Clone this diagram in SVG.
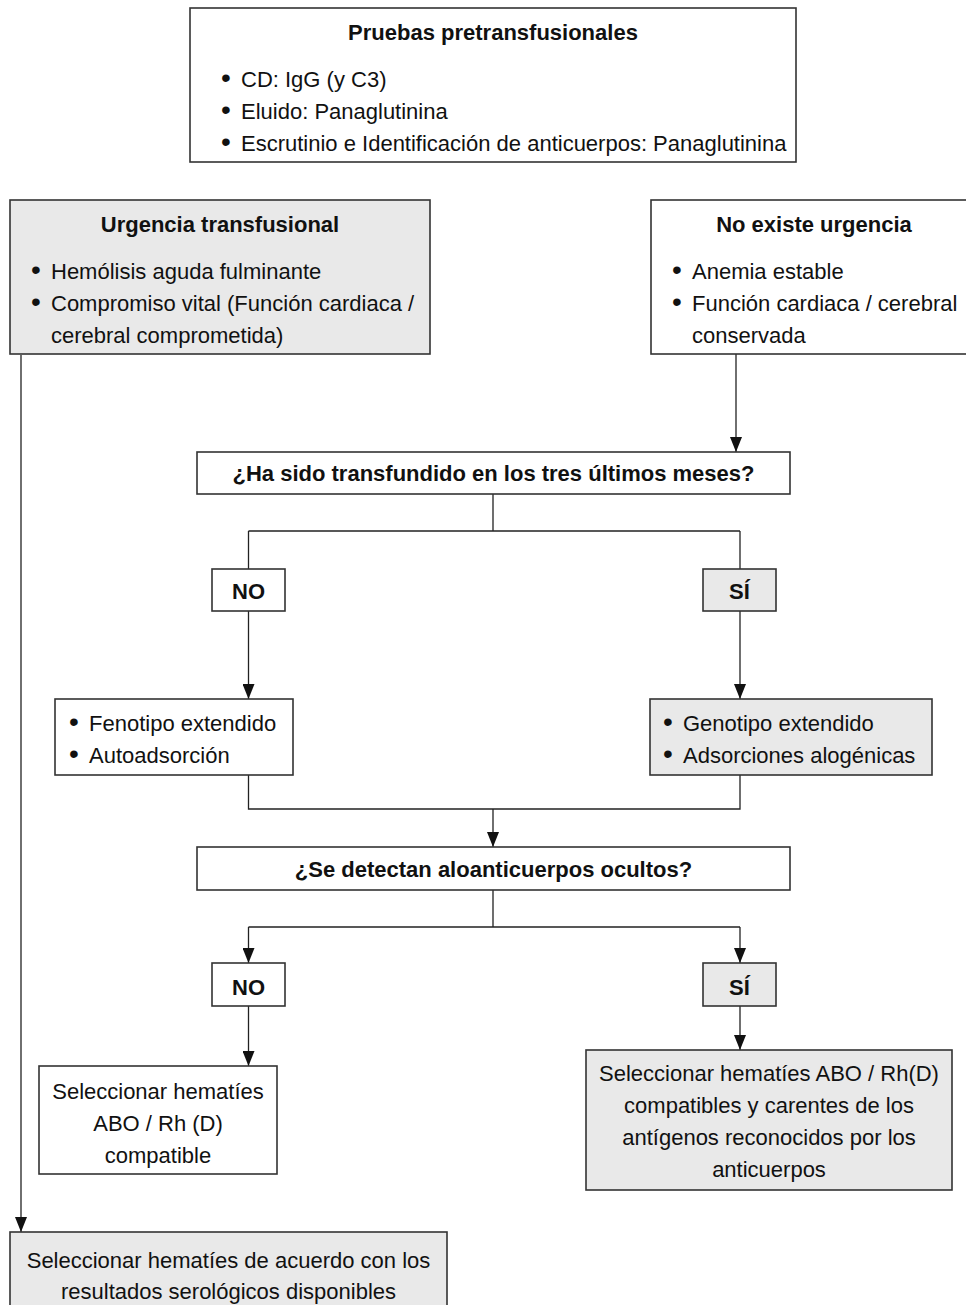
<svg xmlns="http://www.w3.org/2000/svg" width="966" height="1305" viewBox="0 0 966 1305">
<style>
.box{fill:#ffffff;stroke:#333333;stroke-width:1.6}
.gray{fill:#e9e9e9;stroke:#333333;stroke-width:1.6}
text{font-family:"Liberation Sans",Arial,Helvetica,sans-serif;font-size:22px;fill:#111111}
.b{font-weight:bold}
.c{text-anchor:middle}
.dot{font-size:28px}
.conn{fill:none;stroke:#222222;stroke-width:1.3}
</style>
<defs>
<marker id="arr" viewBox="0 0 15 12" refX="15" refY="6" markerWidth="15" markerHeight="12" markerUnits="userSpaceOnUse" orient="auto">
<path d="M0,0 L15,6 L0,12 z" fill="#111111"/>
</marker>
</defs>
<rect width="966" height="1305" fill="#ffffff"/>

<g id="connectors">
<path class="conn" d="M21,355 V1232" marker-end="url(#arr)"/>
<path class="conn" d="M736,354 V452" marker-end="url(#arr)"/>
<path class="conn" d="M493,494 V531 M248.5,531 H740"/>
<path class="conn" d="M248.5,531 V569"/>
<path class="conn" d="M740,531 V569"/>
<path class="conn" d="M248.5,611 V699" marker-end="url(#arr)"/>
<path class="conn" d="M740,611 V699" marker-end="url(#arr)"/>
<path class="conn" d="M248.5,775 V809 H740 V775"/>
<path class="conn" d="M493,809 V847" marker-end="url(#arr)"/>
<path class="conn" d="M493,890 V927 M248.5,927 H740"/>
<path class="conn" d="M248.5,927 V963" marker-end="url(#arr)"/>
<path class="conn" d="M740,927 V963" marker-end="url(#arr)"/>
<path class="conn" d="M248.5,1006 V1066" marker-end="url(#arr)"/>
<path class="conn" d="M740,1006 V1050" marker-end="url(#arr)"/>
</g>

<g id="pruebas">
<rect class="box" x="190" y="8" width="606" height="154"/>
<text class="b c" x="493" y="40">Pruebas pretransfusionales</text>
<text y="87"><tspan class="dot" x="221">•</tspan><tspan x="241">CD: IgG (y C3)</tspan></text>
<text y="119"><tspan class="dot" x="221">•</tspan><tspan x="241">Eluido: Panaglutinina</tspan></text>
<text y="151"><tspan class="dot" x="221">•</tspan><tspan x="241">Escrutinio e Identificación de anticuerpos: Panaglutinina</tspan></text>
</g>

<g id="urgencia">
<rect class="gray" x="10" y="200" width="420" height="154"/>
<text class="b c" x="220" y="232">Urgencia transfusional</text>
<text y="279"><tspan class="dot" x="31">•</tspan><tspan x="51">Hemólisis aguda fulminante</tspan></text>
<text y="311"><tspan class="dot" x="31">•</tspan><tspan x="51">Compromiso vital (Función cardiaca /</tspan></text>
<text x="51" y="343">cerebral comprometida)</text>
</g>

<g id="no-urgencia">
<rect class="box" x="651" y="200" width="326" height="154"/>
<text class="b c" x="814" y="232">No existe urgencia</text>
<text y="279"><tspan class="dot" x="672">•</tspan><tspan x="692">Anemia estable</tspan></text>
<text y="311"><tspan class="dot" x="672">•</tspan><tspan x="692">Función cardiaca / cerebral</tspan></text>
<text x="692" y="343">conservada</text>
</g>

<g id="q1">
<rect class="box" x="197" y="452" width="593" height="42"/>
<text class="b c" x="493.5" y="481">¿Ha sido transfundido en los tres últimos meses?</text>
</g>

<g id="no1">
<rect class="box" x="212" y="569" width="73" height="42"/>
<text class="b c" x="248.5" y="599">NO</text>
</g>

<g id="si1">
<rect class="gray" x="703" y="569" width="73" height="42"/>
<text class="b c" x="739.5" y="599">SÍ</text>
</g>

<g id="fenotipo">
<rect class="box" x="55" y="699" width="238" height="76"/>
<text y="731"><tspan class="dot" x="69">•</tspan><tspan x="89">Fenotipo extendido</tspan></text>
<text y="763"><tspan class="dot" x="69">•</tspan><tspan x="89">Autoadsorción</tspan></text>
</g>

<g id="genotipo">
<rect class="gray" x="650" y="699" width="282" height="76"/>
<text y="731"><tspan class="dot" x="663">•</tspan><tspan x="683">Genotipo extendido</tspan></text>
<text y="763"><tspan class="dot" x="663">•</tspan><tspan x="683">Adsorciones alogénicas</tspan></text>
</g>

<g id="q2">
<rect class="box" x="197" y="847" width="593" height="43"/>
<text class="b c" x="493.5" y="877">¿Se detectan aloanticuerpos ocultos?</text>
</g>

<g id="no2">
<rect class="box" x="212" y="963" width="73" height="43"/>
<text class="b c" x="248.5" y="995">NO</text>
</g>

<g id="si2">
<rect class="gray" x="703" y="963" width="73" height="43"/>
<text class="b c" x="739.5" y="995">SÍ</text>
</g>

<g id="sel-compatible">
<rect class="box" x="39" y="1066" width="238" height="108"/>
<text class="c" x="158" y="1099">Seleccionar hematíes</text>
<text class="c" x="158" y="1131">ABO / Rh (D)</text>
<text class="c" x="158" y="1163">compatible</text>
</g>

<g id="sel-carentes">
<rect class="gray" x="586" y="1050" width="366" height="140"/>
<text class="c" x="769" y="1081">Seleccionar hematíes ABO / Rh(D)</text>
<text class="c" x="769" y="1113">compatibles y carentes de los</text>
<text class="c" x="769" y="1145">antígenos reconocidos por los</text>
<text class="c" x="769" y="1177">anticuerpos</text>
</g>

<g id="sel-serologicos">
<rect class="gray" x="10" y="1232" width="437" height="80"/>
<text class="c" x="228.5" y="1268">Seleccionar hematíes de acuerdo con los</text>
<text class="c" x="228.5" y="1299">resultados serológicos disponibles</text>
</g>
</svg>
